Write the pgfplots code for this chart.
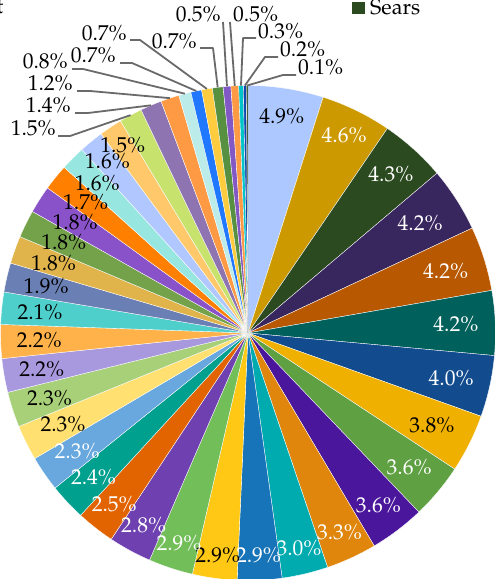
\documentclass[border=0pt]{standalone}
\usepackage{pgfplots}
\pgfplotsset{compat=1.18}
\usepackage{pgfplotstable}
\usetikzlibrary{calc}
\usepackage{fontspec}
\setmainfont{TeX Gyre Pagella}
\definecolor{c1}{HTML}{ADC8FF}
\definecolor{c2}{HTML}{CC9A00}
\definecolor{c3}{HTML}{2B4A1F}
\definecolor{c4}{HTML}{38265E}
\definecolor{c5}{HTML}{B85800}
\definecolor{c6}{HTML}{00615C}
\definecolor{c7}{HTML}{134C8E}
\definecolor{c8}{HTML}{F0B000}
\definecolor{c9}{HTML}{5FA043}
\definecolor{c10}{HTML}{4A169C}
\definecolor{c11}{HTML}{E0860C}
\definecolor{c12}{HTML}{00ABB0}
\definecolor{c13}{HTML}{1874B8}
\definecolor{c14}{HTML}{FFC814}
\definecolor{c15}{HTML}{72BE58}
\definecolor{c16}{HTML}{6F40B0}
\definecolor{c17}{HTML}{E26400}
\definecolor{c18}{HTML}{00A08E}
\definecolor{c19}{HTML}{68A8DE}
\definecolor{c20}{HTML}{FFE070}
\definecolor{c21}{HTML}{A8D078}
\definecolor{c22}{HTML}{A898DE}
\definecolor{c23}{HTML}{FFB24A}
\definecolor{c24}{HTML}{4FCFCB}
\definecolor{c25}{HTML}{6A7FB4}
\definecolor{c26}{HTML}{E0B44A}
\definecolor{c27}{HTML}{74A24A}
\definecolor{c28}{HTML}{8A52C8}
\definecolor{c29}{HTML}{FF8000}
\definecolor{c30}{HTML}{98E6E0}
\definecolor{c31}{HTML}{B0C8FF}
\definecolor{c32}{HTML}{FFC86A}
\definecolor{c33}{HTML}{C8E26E}
\definecolor{c34}{HTML}{8E74B0}
\definecolor{c35}{HTML}{FF9A44}
\definecolor{c36}{HTML}{BCECEA}
\definecolor{c37}{HTML}{2078FF}
\definecolor{c38}{HTML}{FFCC40}
\definecolor{c39}{HTML}{569040}
\definecolor{c40}{HTML}{8258C4}
\definecolor{c41}{HTML}{FF9A44}
\definecolor{c42}{HTML}{00C4C8}
\definecolor{c43}{HTML}{1048B0}
\definecolor{c44}{HTML}{2C4A20}
\definecolor{leader}{HTML}{6A6A6A}

% value, slice colour, label colour, label distance from centre (0..31 labelled inside)
\pgfplotstableread{
v c t lr
4.9 c1 black 219.6
4.6 c2 white 219.6
4.3 c3 white 213.5
4.2 c4 white 204.4
4.2 c5 white 207.3
4.2 c6 white 208.1
4.0 c7 white 208
3.8 c8 black 205.5
3.6 c9 white 210
3.6 c10 white 216
3.3 c11 white 219
3.0 c12 white 221
2.9 c13 white 222.4
2.9 c14 black 224
2.9 c15 white 220.7
2.8 c16 white 218.6
2.5 c17 white 217
2.4 c18 white 211.5
2.3 c19 white 207.6
2.3 c20 black 206.4
2.3 c21 black 208.7
2.2 c22 black 209.3
2.2 c23 black 208.8
2.1 c24 black 209
1.9 c25 black 207.2
1.8 c26 black 206.5
1.8 c27 black 205.3
1.8 c28 black 205.3
1.7 c29 black 208.8
1.6 c30 black 212.8
1.6 c31 black 222
1.5 c32 black 225.6
1.5 c33 black 0
1.4 c34 black 0
1.2 c35 black 0
0.8 c36 black 0
0.7 c37 black 0
0.7 c38 black 0
0.7 c39 black 0
0.5 c40 black 0
0.5 c41 black 0
0.3 c42 black 0
0.2 c43 black 0
0.1 c44 black 0
}\piedata

% outside labels: slice index, elbow, line end, label point (image px), side
\pgfplotstableread{
i ex ey fx fy lx ly s
43 283 75 296 75 298 75 west
42 265 57 278 57 280 57 west
41 243 38 256 38 258 39 west
40 230 22 230 22 233 22 west
39 223 22 223 22 221 22 east
38 213 48 200 48 197 49 east
37 140 40 130 40 127 41 east
36 132 63 120 63 116 63 east
35 83 69 72 69 68 69 east
34 90 91 77 91 73 91 east
33 88 113 75 113 71 113 east
32 70 136 58 136 56 136 east
}\outdata

\newcommand\pct[1]{\pgfmathprintnumber[fixed,fixed zerofill,precision=1,assume math mode=true]{#1}\%}

\begin{document}
\begin{tikzpicture}[font=\fontsize{21.5}{25}\selectfont]
\begin{axis}[
  x=1pt, y=1pt,
  xmin=0, xmax=495, ymin=0, ymax=579,
  hide axis, clip=false,
  at={(0,0)}, anchor=south west,
]
\addplot[draw=none] coordinates {(0,0) (495,579)};
\pgfplotsextra{
  \def\R{247.5}
  \pgfplotstablegetrowsof{\piedata}
  \pgfmathtruncatemacro\N{\pgfplotsretval-1}
  \gdef\tot{0}
  \foreach \i in {0,...,\N}{%
    \pgfplotstablegetelem{\i}{v}\of\piedata
    \pgfmathsetmacro\sumtmp{\tot+\pgfplotsretval}\xdef\tot{\sumtmp}%
  }
  \gdef\cum{0}
  \foreach \i in {0,...,\N}{%
    \pgfplotstablegetelem{\i}{v}\of\piedata \edef\v{\pgfplotsretval}%
    \pgfplotstablegetelem{\i}{c}\of\piedata \edef\c{\pgfplotsretval}%
    \pgfmathsetmacro\a{90-360*(\cum/\tot)}%
    \pgfmathsetmacro\b{90-360*((\cum+\v)/\tot)}%
    \pgfmathsetmacro\m{(\a+\b)/2}%
    \expandafter\xdef\csname mid\i\endcsname{\m}%
    \expandafter\xdef\csname val\i\endcsname{\v}%
    \fill[\c, draw=white, line width=0.35pt] (axis cs:248,246) -- ++(\a:\R pt) arc[start angle=\a, end angle=\b, radius=\R pt] -- cycle;
    \pgfmathsetmacro\nc{\cum+\v}\xdef\cum{\nc}%
  }
  % inside labels
  \foreach \i in {0,...,31}{%
    \pgfplotstablegetelem{\i}{t}\of\piedata \edef\tc{\pgfplotsretval}%
    \pgfplotstablegetelem{\i}{lr}\of\piedata \edef\rr{\pgfplotsretval}%
    \edef\m{\csname mid\i\endcsname}%
    \node[text=\tc, inner sep=0pt] at ($(axis cs:248,246)+(\m:\rr pt)$) {\pct{\csname val\i\endcsname}};
  }
  % outside labels with leader lines
  \pgfplotstablegetrowsof{\outdata}
  \pgfmathtruncatemacro\M{\pgfplotsretval-1}
  \foreach \k in {0,...,\M}{%
    \pgfplotstablegetelem{\k}{i}\of\outdata \edef\ii{\pgfplotsretval}%
    \pgfplotstablegetelem{\k}{ex}\of\outdata \edef\ex{\pgfplotsretval}%
    \pgfplotstablegetelem{\k}{ey}\of\outdata \pgfmathsetmacro\ey{579-\pgfplotsretval}%
    \pgfplotstablegetelem{\k}{fx}\of\outdata \edef\fx{\pgfplotsretval}%
    \pgfplotstablegetelem{\k}{fy}\of\outdata \pgfmathsetmacro\fy{579-\pgfplotsretval}%
    \pgfplotstablegetelem{\k}{lx}\of\outdata \edef\lx{\pgfplotsretval}%
    \pgfplotstablegetelem{\k}{ly}\of\outdata \pgfmathsetmacro\ly{579-\pgfplotsretval}%
    \pgfplotstablegetelem{\k}{s}\of\outdata \edef\sd{\pgfplotsretval}%
    \edef\m{\csname mid\ii\endcsname}%
    \draw[leader, line width=1.8pt, line join=round] ($(axis cs:248,246)+(\m:\R pt)$) -- (axis cs:\ex,\ey) -- (axis cs:\fx,\fy);
    \node[anchor=base \sd, inner sep=0pt] at (axis cs:\lx,\ly) {\pct{\csname val\ii\endcsname}};
  }
  % cut-off title fragment and legend entry
  \node[anchor=base east, inner sep=0pt] at (axis cs:3.5,565) {t};
  \fill[c3] (axis cs:352,565) rectangle (axis cs:365,577);
  \node[anchor=base west, inner sep=0pt] at (axis cs:370,564) {Sears};
}
\end{axis}
\pgfresetboundingbox
\useasboundingbox (0,0) rectangle (495pt,579pt);
\end{tikzpicture}
\end{document}
